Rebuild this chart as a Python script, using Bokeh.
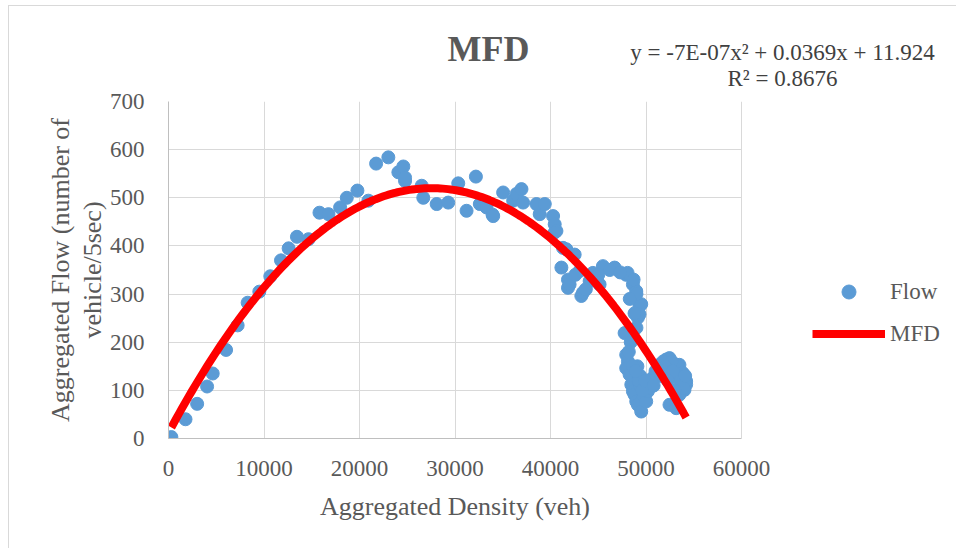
import numpy as np
from bokeh.plotting import figure
from bokeh.models import (ColumnDataSource, Range1d, FixedTicker, Label,
                          Legend, LegendItem, BoxAnnotation)
from bokeh.embed import file_html
from bokeh.resources import INLINE

# Aggregated density (veh) and aggregated flow (veh / 5 sec) observations
density = [300, 1780, 3000, 4040, 4630, 6030, 7240, 8290, 9510, 10660,
           11780, 12580, 13450, 14660, 15810, 16750, 17970, 18670, 19780, 20930,
           21740, 23020, 24070, 24590, 24770, 24770, 26510, 26680, 28080, 29290,
           30340, 31210, 32190, 32600, 33300, 33930, 34000, 35040, 36090, 36440,
           36960, 37130, 38530, 38870, 39400, 40270, 40440, 40620, 40440, 41140,
           41310, 41660, 41830, 41830, 42530, 43050, 43230, 43400, 44100, 44440,
           45140, 45490, 46710, 47930, 48070, 48630, 48980, 49320, 49500, 49150,
           47760, 47930, 48110, 47930, 48280, 48460, 48630, 48800, 48980, 49150,
           49320, 49500, 49670, 50020, 50190, 50370, 50710, 51410, 52110, 52460,
           52980, 53500, 53850, 54200, 54200, 54030, 53500, 52460, 53160, 49320,
           49000, 48700, 48400, 49100, 49400, 51000, 51800, 52700, 53300, 53900,
           48300, 48800, 49000, 48200, 48600, 49200, 49600, 48900, 50500, 51200,
           52000, 52800, 53600, 54100, 53000, 52300, 51600, 49900, 50800, 45000,
           46200, 47300, 42000, 42600, 43700]
flow = [3, 40, 72, 108, 135, 184, 235, 282, 305, 337,
        370, 395, 419, 414, 469, 466, 480, 500, 515, 494,
        571, 584, 553, 565, 535, 542, 525, 500, 487, 490,
        530, 473, 544, 487, 480, 465, 462, 511, 494, 508,
        518, 490, 487, 466, 487, 462, 445, 431, 428, 355,
        396, 393, 330, 313, 382, 348, 296, 303, 327, 344,
        320, 358, 355, 340, 344, 320, 306, 275, 279, 251,
        219, 174, 160, 146, 133, 112, 98, 91, 77, 70,
        112, 56, 91, 77, 98, 105, 126, 153, 164, 167,
        153, 153, 136, 119, 112, 101, 91, 70, 63, 258,
        300, 330, 200, 150, 130, 140, 160, 160, 130, 105,
        290, 260, 230, 180, 150, 120, 100, 140, 120, 140,
        150, 140, 120, 130, 100, 120, 130, 120, 110, 340,
        350, 345, 320, 340, 310]

# Quadratic trendline coefficients (a*x^2 + b*x + c) and its goodness of fit
coef_a = -6.7e-07
coef_b = 0.0369
coef_c = 11.924
r_squared = 0.8676

x_ticks = [0, 10000, 20000, 30000, 40000, 50000, 60000]
y_ticks = [0, 100, 200, 300, 400, 500, 600, 700]

SERIF = "Liberation Serif"
GREY = "#595959"

# Canvas layout (px): the frame runs on past the axis end to hold the legend
W, H = 948, 543
LEFT, TOP, BOTTOM = 159, 95, 111
AXIS_W = 573                      # width of the 0..60000 axis span
FRAME_W = W - LEFT
X_END = x_ticks[-1] * FRAME_W / AXIS_W


def xpos(px):
    """Data x for a horizontal offset (px) from the frame's left edge."""
    return px * X_END / FRAME_W


p = figure(width=W, height=H, output_backend="svg", toolbar_location=None,
           title=None, x_range=Range1d(0, X_END), y_range=Range1d(0, 700),
           min_border_left=LEFT, min_border_right=0,
           min_border_top=TOP, min_border_bottom=BOTTOM)
p.styles = {"margin-left": "8px", "margin-top": "5px",
            "border-left": "1px solid #d9d9d9", "border-top": "1px solid #d9d9d9"}
p.outline_line_color = None

p.xaxis.ticker = FixedTicker(ticks=x_ticks)
p.yaxis.ticker = FixedTicker(ticks=y_ticks)
p.xaxis.bounds = (x_ticks[0], x_ticks[-1])
for ax in (p.xaxis[0], p.yaxis[0]):
    ax.axis_line_color = "#bfbfbf"
    ax.major_tick_line_color = None
    ax.minor_tick_line_color = None
    ax.major_label_text_font = SERIF
    ax.major_label_text_font_size = "23px"
    ax.major_label_text_color = GREY
    ax.axis_label_text_font = SERIF
    ax.axis_label_text_font_size = "26px"
    ax.axis_label_text_font_style = "normal"
    ax.axis_label_text_color = GREY
p.xaxis.major_label_standoff = 16
p.yaxis.major_label_standoff = 18
p.yaxis.axis_label = "Aggregated Flow (number of\nvehicle/5sec)"
p.yaxis.axis_label_standoff = 0
p.yaxis.axis_label_text_line_height = 1.1

p.xgrid.ticker = FixedTicker(ticks=x_ticks)
p.ygrid.ticker = FixedTicker(ticks=y_ticks)
p.xgrid.grid_line_color = "#d9d9d9"
p.ygrid.grid_line_color = "#d9d9d9"
try:
    p.ygrid.cross_bounds = (x_ticks[0], x_ticks[-1])
except AttributeError:
    # blank out the horizontal grid lines past the end of the density axis
    p.add_layout(BoxAnnotation(left=x_ticks[-1] + xpos(1), fill_color="white",
                               fill_alpha=1, line_color=None))

src = ColumnDataSource(dict(x=density, y=flow))
pts = p.scatter("x", "y", source=src, size=13, marker="circle",
                fill_color="#5b9bd5", line_color="#5b9bd5")

# Trendline across the observed density range
xs = np.linspace(min(density), max(density), 200)
ys = coef_a * xs ** 2 + coef_b * xs + coef_c
fit = p.line(xs, ys, line_color="#ff0000", line_width=8)

legend = Legend(items=[LegendItem(label="Flow", renderers=[pts]),
                       LegendItem(label="MFD", renderers=[fit])],
                location=(644, 87), glyph_width=73, glyph_height=35,
                label_height=20, spacing=7, padding=0, margin=0,
                label_standoff=5, border_line_color=None,
                background_fill_alpha=0,
                label_text_font=SERIF, label_text_font_size="23px",
                label_text_color=GREY)
p.add_layout(legend)

# Chart title and trendline equation, above the plot area
p.add_layout(Label(x=xpos(320), y=810, text="MFD", text_font=SERIF,
                   text_font_size="36px", text_font_style="bold",
                   text_color=GREY, text_align="center",
                   text_baseline="middle"), "above")
eq = f"y = {coef_a:.0E}x\u00b2 + {coef_b}x + {coef_c}"
p.add_layout(Label(x=xpos(614), y=802, text=eq, text_font=SERIF,
                   text_font_size="23px", text_color="#404040",
                   text_align="center", text_baseline="middle"), "above")
p.add_layout(Label(x=xpos(614), y=748, text=f"R\u00b2 = {r_squared}",
                   text_font=SERIF, text_font_size="23px",
                   text_color="#404040", text_align="center",
                   text_baseline="middle"), "above")

# x-axis title, centred under the 0..60000 span
p.add_layout(Label(x=(x_ticks[0] + x_ticks[-1]) / 2, y=-142,
                   text="Aggregated Density (veh)", text_font=SERIF,
                   text_font_size="26px", text_color=GREY,
                   text_align="center", text_baseline="middle"), "below")

open("out.html", "w").write(file_html(p, INLINE))
